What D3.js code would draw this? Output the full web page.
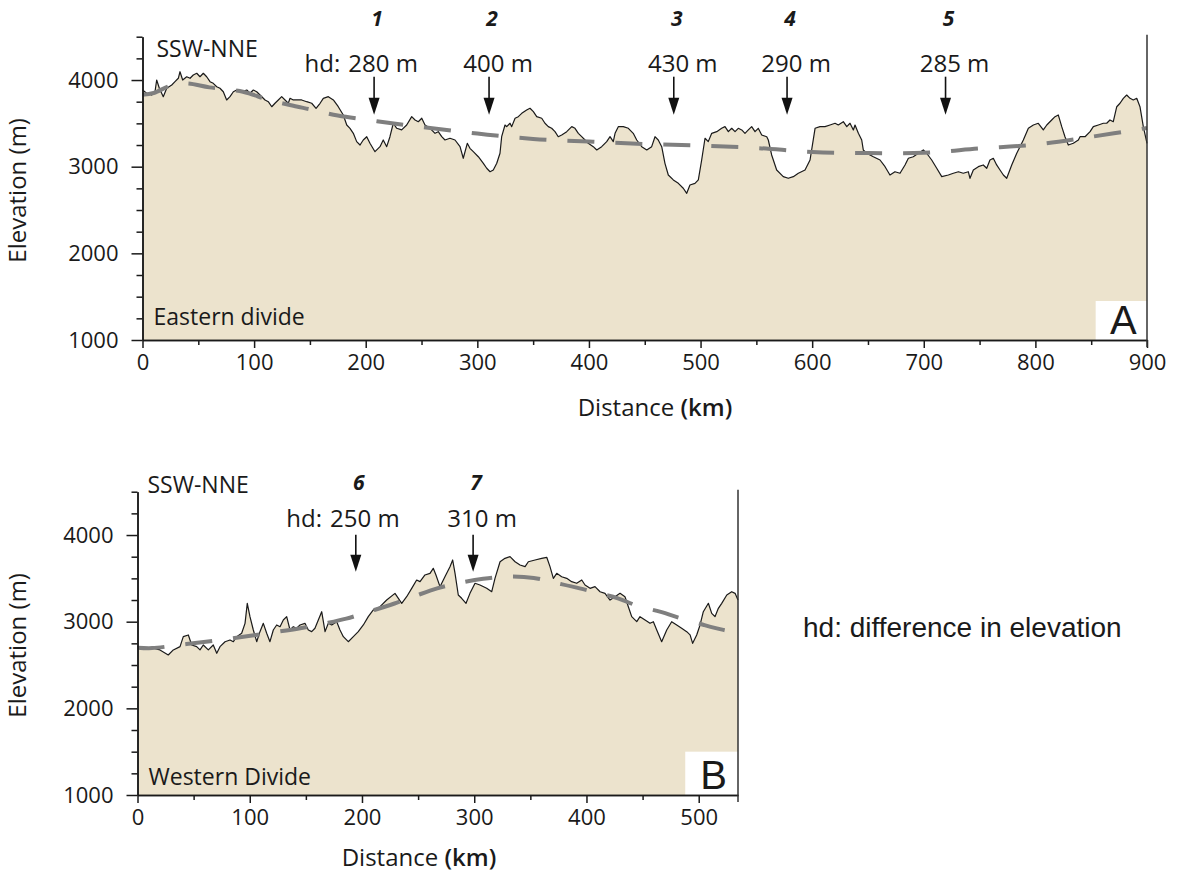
<!DOCTYPE html>
<html>
<head>
<meta charset="utf-8">
<script src="https://cdn.jsdelivr.net/npm/d3@7/dist/d3.min.js"></script>
<style>
  body { margin: 0; background: #fff; }
  text { font-family: 'Open Sans', sans-serif; fill: #1a1a1a; }
</style>
</head>
<body>
<svg id="chart" width="1178" height="874"></svg>
<script>
// ---- Eastern divide (panel A) ----
const eastDistance = [0, 3.8, 8.2, 11.2, 12.7, 15.1, 18.6, 21.7, 26.2, 29.1, 32.1, 33.6, 36, 39.6, 42.6, 45.5, 48.6, 51.5, 54.5, 57.5,
  60.5, 63.4, 66.5, 69.4, 72.4, 75.4, 78.4, 81.4, 84.4, 88.9, 93.4, 96.3, 99.3, 102.3, 105.3, 109.8, 112.7, 115.8, 118.7, 121.7,
  124.7, 127.7, 130.6, 132.2, 135.1, 139.6, 142.6, 147.1, 151.6, 155.5, 159.1, 162, 166.5, 171, 175.4, 179.9, 183, 185.9, 188.9, 191.9,
  194.9, 197.8, 200.9, 203.8, 208.3, 212.8, 215.7, 218.8, 221.7, 224.7, 227.8, 232.2, 236.7, 241.2, 244.2, 247.1, 250.2, 253.1, 257.6, 262.1,
  265, 268.1, 271, 275.5, 280, 284.5, 287.4, 291, 293.4, 296.4, 300.9, 305.4, 308.4, 311.4, 314.3, 317.4, 320.3, 321.8, 324.8, 326.3,
  329.3, 330.8, 333.8, 336.7, 339.8, 344.2, 347.2, 350.2, 353.2, 357.7, 360.6, 363.6, 366.6, 369.6, 372.5, 375.6, 380.1, 384.6, 387.5, 390.5,
  393.5, 396.5, 399.4, 403.9, 407, 411.4, 415.9, 418.9, 421.8, 423.4, 426.3, 430.8, 435.3, 439.7, 442.8, 447.3, 451.8, 456.2, 459.2, 462.1,
  465.2, 468.1, 471.1, 475.6, 480.1, 484.5, 487.6, 490.5, 495, 498, 501, 504, 506.9, 510, 514.5, 518.9, 521.9, 524.9, 527.9, 530.9,
  533.8, 536.9, 539.8, 542.8, 545.8, 548.8, 551.7, 554.8, 559.3, 560.7, 563.7, 568.2, 574.1, 578.6, 583.1, 587.6, 593.6, 598.1, 602.6, 607,
  611.5, 616, 620.5, 623.4, 627.9, 631, 633.9, 636.9, 638.4, 641.4, 644.4, 645.8, 648.9, 654.8, 660.8, 665.3, 669.7, 674.2, 678.7, 683.2,
  686.2, 690.6, 695.1, 699.6, 702.6, 707.1, 711.6, 716.1, 722, 726.5, 731, 735.4, 739.9, 741.4, 744.4, 748.9, 753.3, 756.4, 759.3, 762.3,
  765.3, 768.3, 771.3, 774.3, 778.8, 783.3, 789.2, 793.7, 798.2, 802.6, 807.1, 810.2, 814.6, 817.6, 820.5, 823.6, 826.5, 829.5, 834, 838.5,
  840, 844.5, 849, 851.9, 856.4, 860.9, 863.9, 866.8, 869.8, 872.9, 875.8, 878.8, 881.8, 884.8, 887.7, 890.8, 893.7, 896.7, 900];
const eastElevation = [3885, 3847, 3827, 3865, 4000, 3905, 3808, 3905, 3943, 3981, 4020, 4096, 4000, 4038, 4020, 4058, 4078, 4038, 4078, 4038,
  3981, 3962, 3923, 3905, 3865, 3770, 3808, 3865, 3885, 3865, 3885, 3847, 3885, 3865, 3827, 3770, 3750, 3692, 3732, 3770,
  3808, 3770, 3732, 3789, 3770, 3770, 3770, 3750, 3732, 3674, 3732, 3789, 3808, 3770, 3692, 3597, 3481, 3443, 3385, 3289,
  3250, 3308, 3346, 3270, 3173, 3231, 3308, 3231, 3346, 3501, 3443, 3424, 3481, 3577, 3539, 3519, 3559, 3481, 3443, 3385,
  3404, 3346, 3308, 3328, 3308, 3231, 3097, 3270, 3212, 3173, 3115, 3039, 2982, 2942, 2962, 3039, 3155, 3346, 3481, 3462,
  3501, 3462, 3559, 3577, 3616, 3654, 3674, 3635, 3577, 3559, 3501, 3462, 3443, 3404, 3346, 3366, 3404, 3462, 3443, 3385,
  3346, 3308, 3270, 3231, 3193, 3231, 3289, 3346, 3289, 3385, 3462, 3462, 3443, 3385, 3308, 3231, 3193, 3231, 3346, 3308,
  3231, 3039, 2904, 2847, 2808, 2751, 2693, 2789, 2808, 2847, 3077, 3328, 3289, 3385, 3404, 3443, 3462, 3404, 3443, 3404,
  3443, 3424, 3385, 3424, 3462, 3404, 3443, 3366, 3346, 3308, 3135, 2962, 2885, 2866, 2885, 2924, 2962, 3077, 3443, 3462,
  3462, 3481, 3501, 3481, 3519, 3462, 3501, 3424, 3481, 3385, 3308, 3193, 3155, 3115, 3077, 3000, 2904, 2942, 2924, 3020,
  3097, 3115, 3155, 3193, 3155, 3077, 2982, 2885, 2904, 2924, 2942, 2924, 2942, 2866, 2962, 3000, 3020, 2982, 3077, 3097,
  3020, 2962, 2904, 2866, 3020, 3155, 3308, 3443, 3481, 3501, 3424, 3481, 3539, 3577, 3597, 3462, 3346, 3250, 3270, 3308,
  3346, 3346, 3404, 3462, 3481, 3501, 3501, 3539, 3519, 3692, 3732, 3789, 3827, 3789, 3770, 3789, 3692, 3462, 3270];
const eastTrendDistance = [0, 10, 27, 40, 60, 90, 112, 132, 153, 175, 210, 250, 300, 350, 400, 450, 500, 550, 600, 650, 700, 750, 800, 850, 900];
const eastTrendElevation = [3830, 3850, 3945, 3960, 3915, 3865, 3775, 3712, 3654, 3590, 3525, 3458, 3382, 3320, 3290, 3262, 3242, 3216, 3170, 3157, 3160, 3210, 3255, 3345, 3446];
const eastGapDistance = [207.5, 310.5, 476, 577.5, 719.5];
const eastGapNumber = ['1', '2', '3', '4', '5'];
const eastGapLabel = ['280 m', '400 m', '430 m', '290 m', '285 m'];
const eastTicks = [0, 100, 200, 300, 400, 500, 600, 700, 800, 900];

// ---- Western divide (panel B) ----
const westDistance = [0, 8.2, 14.1, 20, 27.4, 31.9, 37.9, 40.8, 45.3, 48.3, 52.7, 55.7, 58.6, 63.1, 67.5, 70.6, 73.5, 78, 82.4, 85.4,
  88.4, 92.8, 95.8, 97.8, 100.2, 103.2, 106.2, 109.1, 112.1, 115.1, 118, 121, 124, 127, 129.9, 132.9, 135.9, 138.8, 141.8, 144.8,
  149.2, 152.2, 155.2, 158.1, 161.1, 164.1, 167.1, 170, 173, 177.5, 180.4, 183.4, 187.8, 192.3, 196.7, 201.2, 205.6, 210.1, 216.1, 222,
  229.4, 235.4, 239.8, 244.3, 248.7, 251.7, 256.1, 260.6, 263.5, 265.9, 269.5, 273.9, 278.4, 280.8, 282.9, 285.8, 288.8, 292.7, 296.2, 300.7,
  305.1, 311.1, 315.6, 318.5, 323, 327.4, 331.9, 336.4, 340.8, 345.3, 348.2, 354.2, 360.1, 364.6, 367.5, 370.5, 373.5, 377.9, 382.4, 386.8,
  391.3, 395.8, 398.7, 403.2, 407.6, 412.1, 416.5, 421, 425.4, 429.9, 434.3, 437.3, 440.3, 444.8, 447.7, 452.2, 456.6, 459.6, 462.6, 467,
  471.5, 475.9, 480.4, 484.8, 489.3, 492.3, 494.6, 498.2, 501.2, 504.1, 508.6, 511.6, 514.5, 517.5, 520.5, 525, 529.4, 532.4, 535];
const westElevation = [2712, 2693, 2693, 2674, 2616, 2674, 2712, 2827, 2847, 2731, 2712, 2674, 2731, 2674, 2731, 2635, 2712, 2769, 2789, 2769,
  2827, 2866, 2981, 3212, 3058, 2904, 2769, 2885, 2981, 2866, 2769, 2904, 2962, 2942, 3020, 3058, 2904, 2942, 2924, 2962,
  2981, 2904, 2885, 2924, 3020, 3115, 2885, 2981, 2962, 3000, 2904, 2827, 2769, 2827, 2885, 2962, 3058, 3135, 3173, 3250,
  3327, 3212, 3288, 3385, 3481, 3462, 3539, 3558, 3616, 3539, 3404, 3519, 3635, 3712, 3558, 3308, 3270, 3212, 3327, 3443,
  3423, 3385, 3346, 3500, 3692, 3731, 3750, 3692, 3654, 3635, 3692, 3712, 3731, 3743, 3635, 3500, 3558, 3519, 3500, 3462,
  3443, 3481, 3423, 3385, 3404, 3346, 3327, 3250, 3288, 3327, 3288, 3173, 3058, 3000, 3058, 3019, 2981, 3000, 2904, 2769,
  2904, 3000, 2962, 2924, 2885, 2847, 2750, 2847, 2962, 3115, 3212, 3096, 3058, 3154, 3212, 3308, 3346, 3327, 3250];
const westTrendDistance = [0, 13, 36, 59, 80, 99, 115, 145, 167, 186, 206, 229, 246, 267, 286, 308, 329, 353, 372, 394, 406, 428, 445, 467, 480, 504, 522, 535];
const westTrendElevation = [2700, 2695, 2730, 2765, 2800, 2835, 2865, 2925, 2980, 3035, 3115, 3210, 3290, 3385, 3445, 3495, 3520, 3505, 3450, 3385, 3345, 3270, 3185, 3110, 3055, 2965, 2905, 2875];
const westGapDistance = [194.5, 299];
const westGapNumber = ['6', '7'];
const westGapLabel = ['250 m', '310 m'];
const westTicks = [0, 100, 200, 300, 400, 500];

const elevationTicks = [1000, 2000, 3000, 4000];

const svg = d3.select('#chart');

function drawPanel(p) {
  const x = d3.scaleLinear().domain([0, p.xMax]).range([p.left, p.right]);
  const y = d3.scaleLinear().domain([1000, 4500]).range([p.bottom, p.top]);
  const g = svg.append('g');

  const profile = p.distance.map((d, i) => [d, p.elevation[i]]);
  const trend = p.trendDistance.map((d, i) => [d, p.trendElevation[i]]);

  g.append('path')
    .attr('fill', '#ece3cd')
    .attr('d', d3.area().x(d => x(d[0])).y0(y(1000)).y1(d => y(d[1]))(profile));

  // white box with the panel letter
  g.append('rect')
    .attr('x', x(p.boxFrom))
    .attr('y', y(p.boxTop))
    .attr('width', x(p.xMax) - x(p.boxFrom))
    .attr('height', y(1000) - y(p.boxTop))
    .attr('fill', '#fff');
  g.append('text')
    .attr('x', (x(p.boxFrom) + x(p.xMax)) / 2 + 2)
    .attr('y', y(1000) - 6)
    .attr('text-anchor', 'middle')
    .attr('font-size', 40)
    .style('font-family', "'Liberation Sans', Arial, sans-serif")
    .text(p.letter);

  g.append('path')
    .attr('fill', 'none')
    .attr('stroke', '#1a1a1a')
    .attr('stroke-width', 1.2)
    .attr('stroke-linejoin', 'round')
    .attr('d', d3.line().x(d => x(d[0])).y(d => y(d[1]))(profile));

  g.append('path')
    .attr('fill', 'none')
    .attr('stroke', '#7f7f7f')
    .attr('stroke-width', 4)
    .attr('stroke-dasharray', '27 21')
    .attr('d', d3.line().x(d => x(d[0])).y(d => y(d[1])).curve(d3.curveCatmullRom)(trend));

  // axes
  const xMajor = d3.axisBottom(x).tickValues(p.ticks).tickSize(8).tickSizeOuter(0).tickPadding(6)
    .tickFormat(d3.format('d'));
  const xMinor = d3.axisBottom(x).tickValues(p.ticks.map(d => d + 50).filter(d => d < p.xMax))
    .tickSize(5).tickSizeOuter(0).tickFormat('');
  const yMajor = d3.axisLeft(y).tickValues(elevationTicks).tickSize(11).tickSizeOuter(0).tickPadding(13)
    .tickFormat(d3.format('d'));
  const yMinor = d3.axisLeft(y).tickValues(d3.range(1250, 4501, 250).filter(d => d % 1000 !== 0))
    .tickSize(6).tickSizeOuter(0).tickFormat('');

  const axes = g.append('g');
  axes.append('g').attr('transform', `translate(0,${p.bottom})`).call(xMinor);
  axes.append('g').attr('transform', `translate(0,${p.bottom})`).call(xMajor);
  axes.append('g').attr('transform', `translate(${p.left},0)`).call(yMinor);
  axes.append('g').attr('transform', `translate(${p.left},0)`).call(yMajor);
  axes.selectAll('path, line').attr('stroke', '#1a1a1a').attr('stroke-width', 1.5);
  axes.selectAll('.tick text')
    .attr('font-size', 22)
    .style('font-family', "'Open Sans', sans-serif")
    .attr('fill', '#1a1a1a');

  g.append('line')
    .attr('x1', x(p.xMax)).attr('x2', x(p.xMax))
    .attr('y1', y(4500) - 2).attr('y2', y(1000) + 7)
    .attr('stroke', '#333').attr('stroke-width', 1.5);

  // axis titles
  g.append('text')
    .attr('transform', `translate(26,${(p.top + p.bottom) / 2 + 2}) rotate(-90)`)
    .attr('text-anchor', 'middle')
    .attr('font-size', 24)
    .text('Elevation (m)');
  const xt = g.append('text')
    .attr('x', p.xTitleX)
    .attr('y', p.bottom + p.xTitleDy)
    .attr('text-anchor', 'middle')
    .attr('font-size', 24);
  xt.append('tspan').text('Distance ');
  xt.append('tspan').attr('font-weight', 600).text('(km)');

  g.append('text')
    .attr('x', p.left + p.dirDx)
    .attr('y', p.top + p.dirDy)
    .attr('font-size', 23)
    .text('SSW-NNE');
  g.append('text')
    .attr('x', p.left + 11)
    .attr('y', p.bottom - p.nameDy)
    .attr('font-size', 23)
    .text(p.name);

  // height-difference arrows
  p.gapDistance.forEach((d, i) => {
    const ax = x(d);
    const tip = p.top + p.arrowTip;
    g.append('line')
      .attr('x1', ax).attr('x2', ax)
      .attr('y1', p.top + p.arrowTop).attr('y2', tip - 12)
      .attr('stroke', '#111').attr('stroke-width', 1.6);
    g.append('path')
      .attr('d', `M${ax - 5.5},${tip - 17}L${ax + 5.5},${tip - 17}L${ax},${tip}Z`)
      .attr('fill', '#111');
    g.append('text')
      .attr('x', ax + 3)
      .attr('y', p.top + p.numberDy)
      .attr('text-anchor', 'middle')
      .attr('font-size', 21)
      .attr('font-weight', 700)
      .attr('font-style', 'italic')
      .text(p.gapNumber[i]);
    const label = g.append('text')
      .attr('x', ax + 9)
      .attr('y', p.top + p.labelDy)
      .attr('text-anchor', 'middle')
      .attr('font-size', 24)
      .text(p.gapLabel[i]);
    if (i === 0) {
      const w = label.node().getComputedTextLength();
      g.append('text')
        .attr('x', ax + 9 - w / 2 - 8)
        .attr('y', p.top + p.labelDy)
        .attr('text-anchor', 'end')
        .attr('font-size', 24)
        .text('hd:');
    }
  });
}

drawPanel({
  distance: eastDistance, elevation: eastElevation,
  trendDistance: eastTrendDistance, trendElevation: eastTrendElevation,
  gapDistance: eastGapDistance, gapNumber: eastGapNumber, gapLabel: eastGapLabel,
  ticks: eastTicks, xMax: 900,
  left: 142.5, right: 1147, top: 36.7, bottom: 340,
  boxFrom: 854, boxTop: 1450, letter: 'A', name: 'Eastern divide',
  xTitleX: 655, xTitleDy: 76, dirDx: 14, dirDy: 20, nameDy: 15,
  arrowTop: 40, arrowTip: 78, numberDy: -11, labelDy: 35
});

drawPanel({
  distance: westDistance, elevation: westElevation,
  trendDistance: westTrendDistance, trendElevation: westTrendElevation,
  gapDistance: westGapDistance, gapNumber: westGapNumber, gapLabel: westGapLabel,
  ticks: westTicks, xMax: 535,
  left: 137.5, right: 738, top: 491.7, bottom: 795,
  boxFrom: 488, boxTop: 1500, letter: 'B', name: 'Western Divide',
  xTitleX: 419, xTitleDy: 71, dirDx: 10, dirDy: 1, nameDy: 10,
  arrowTop: 43, arrowTip: 80, numberDy: -2, labelDy: 35
});

svg.append('text')
  .attr('x', 803)
  .attr('y', 637)
  .attr('font-size', 28)
  .style('font-family', "'Liberation Sans', Arial, sans-serif")
  .text('hd: difference in elevation');
</script>
</body>
</html>
